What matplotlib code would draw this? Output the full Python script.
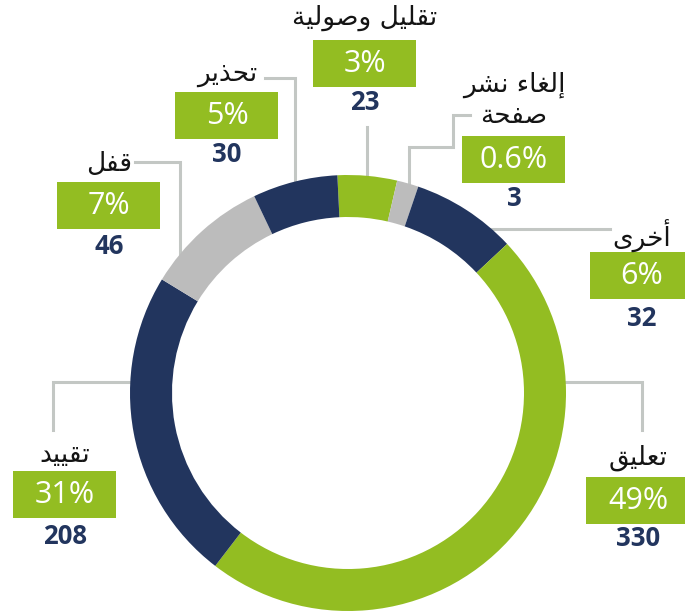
import matplotlib
matplotlib.use('Agg')
import matplotlib.pyplot as plt
from matplotlib.patches import Rectangle

# --- data (clockwise from the top of the ring) ---
categories = ['تقليل وصولية', 'إلغاء نشر\nصفحة', 'أخرى', 'تعليق', 'تقييد', 'قفل', 'تحذير']
counts = [23, 3, 32, 330, 208, 46, 30]
percents = ['3%', '0.6%', '6%', '49%', '31%', '7%', '5%']
# arc sizes as drawn in the original graphic (share of the ring, %)
arc_share = [4.4, 1.6, 7.8, 47.4, 23.3, 9.2, 6.3]

GREEN = '#93bd22'
NAVY = '#22355e'
GREY = '#bcbcbc'
LINE = '#c3c7c4'
seg_colors = [GREEN, GREY, NAVY, GREEN, NAVY, GREY, NAVY]

W, H = 685, 613

# label layout in pixels: (x centre, title y, box centre y, count y)
label_pos = [
    (365, 18, 63, 103),
    (514, 100, 159, 199),
    (642, 236, 275, 318),
    (638, 458, 500, 538),
    (65, 455, 494, 537),
    (109, 164, 205, 247),
    (227, 74, 115, 155),
]
# leader lines in pixels
leaders = [
    [(367, 127), (367, 180)],
    [(470, 115), (453, 115), (453, 147), (409, 147), (409, 185)],
    [(490, 229), (610, 229)],
    [(560, 382), (642, 382), (642, 430)],
    [(53, 430), (53, 382), (136, 382)],
    [(135, 162), (180, 162), (180, 258)],
    [(265, 78), (295, 78), (295, 190)],
]

# contextual forms for the arabic letters used (isolated, final, initial, medial)
FORMS = {
    'ء': (0xFE80, None, None, None),
    'أ': (0xFE83, 0xFE84, None, None),
    'إ': (0xFE87, 0xFE88, None, None),
    'ا': (0xFE8D, 0xFE8E, None, None),
    'ب': (0xFE8F, 0xFE90, 0xFE91, 0xFE92),
    'ة': (0xFE93, 0xFE94, None, None),
    'ت': (0xFE95, 0xFE96, 0xFE97, 0xFE98),
    'ح': (0xFEA1, 0xFEA2, 0xFEA3, 0xFEA4),
    'خ': (0xFEA5, 0xFEA6, 0xFEA7, 0xFEA8),
    'د': (0xFEA9, 0xFEAA, None, None),
    'ذ': (0xFEAB, 0xFEAC, None, None),
    'ر': (0xFEAD, 0xFEAE, None, None),
    'ش': (0xFEB5, 0xFEB6, 0xFEB7, 0xFEB8),
    'ص': (0xFEB9, 0xFEBA, 0xFEBB, 0xFEBC),
    'ع': (0xFEC9, 0xFECA, 0xFECB, 0xFECC),
    'غ': (0xFECD, 0xFECE, 0xFECF, 0xFED0),
    'ف': (0xFED1, 0xFED2, 0xFED3, 0xFED4),
    'ق': (0xFED5, 0xFED6, 0xFED7, 0xFED8),
    'ل': (0xFEDD, 0xFEDE, 0xFEDF, 0xFEE0),
    'ن': (0xFEE5, 0xFEE6, 0xFEE7, 0xFEE8),
    'و': (0xFEED, 0xFEEE, None, None),
    'ى': (0xFEEF, 0xFEF0, None, None),
    'ي': (0xFEF1, 0xFEF2, 0xFEF3, 0xFEF4),
}


def shape_line(s):
    out = []
    for i, c in enumerate(s):
        if c not in FORMS:
            out.append(c)
            continue
        iso, fin, ini, med = FORMS[c]
        prev = s[i - 1] if i > 0 else ''
        nxt = s[i + 1] if i + 1 < len(s) else ''
        jp = fin is not None and prev in FORMS and FORMS[prev][2] is not None
        jn = ini is not None and nxt in FORMS and FORMS[nxt][1] is not None
        if jp and jn:
            code = med
        elif jp:
            code = fin
        elif jn:
            code = ini
        else:
            code = iso
        out.append(chr(code))
    return ''.join(out)[::-1]


def arabic(s):
    return '\n'.join(shape_line(line) for line in s.split('\n'))


def py(y):
    return H - y


fig = plt.figure(figsize=(W / 100, H / 100), dpi=100)
ax = fig.add_axes([0, 0, 1, 1])

ax.pie(arc_share, colors=seg_colors, startangle=92.8, counterclock=False,
       radius=218, center=(348, py(393)),
       wedgeprops=dict(width=42, edgecolor='none', zorder=3), frame=False)

for pts in leaders:
    xs = [p[0] for p in pts]
    ys = [py(p[1]) for p in pts]
    ax.plot(xs, ys, color=LINE, lw=2.2, solid_joinstyle='miter', zorder=1)

for cat, n, pct, (x, ty, by, cy) in zip(categories, counts, percents, label_pos):
    ax.text(x, py(ty), arabic(cat), ha='center', va='center', fontsize=19,
            family='DejaVu Sans', color='#141414', linespacing=1.25)
    ax.add_patch(Rectangle((x - 51.5, py(by) - 23.5), 103, 47,
                           facecolor=GREEN, edgecolor='none', zorder=2))
    ax.text(x, py(by) - 1, pct, ha='center', va='center', fontsize=22,
            family='Open Sans', color='white', zorder=4)
    ax.text(x, py(cy), str(n), ha='center', va='center', fontsize=18.5,
            family='Open Sans', fontweight='bold', color=NAVY)

ax.set_xlim(0, W)
ax.set_ylim(0, H)
ax.set_aspect('auto')
ax.axis('off')

fig.savefig('out.png', dpi=100)
